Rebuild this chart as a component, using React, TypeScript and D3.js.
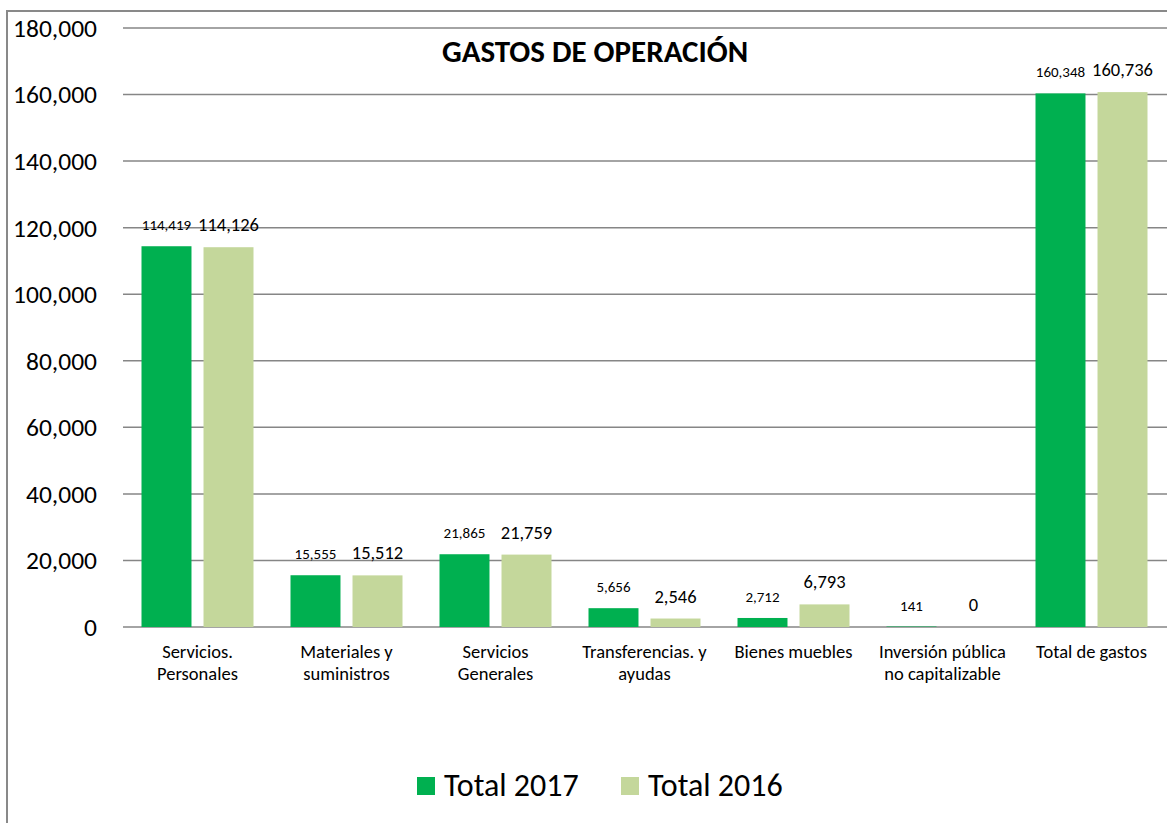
import { useEffect, useRef } from 'react';
import * as d3 from 'd3';

const CATEGORIES = [
  ['Servicios.', 'Personales'],
  ['Materiales y', 'suministros'],
  ['Servicios', 'Generales'],
  ['Transferencias. y', 'ayudas'],
  ['Bienes muebles'],
  ['Inversión pública', 'no capitalizable'],
  ['Total de gastos'],
];
const TOTAL_2017 = [114419, 15555, 21865, 5656, 2712, 141, 160348];
const TOTAL_2016 = [114126, 15512, 21759, 2546, 6793, 0, 160736];
const Y_TICKS = [0, 20000, 40000, 60000, 80000, 100000, 120000, 140000, 160000, 180000];

const C2017 = '#00B050';
const C2016 = '#C4D79B';
const FONT = 'Carlito, Lato, "Open Sans", sans-serif';

const App = () => {
  const svgRef = useRef<SVGSVGElement>(null);

  useEffect(() => {
    const width = 1167;
    const height = 823;
    const left = 123;
    const right = 1166;
    const top = 28;
    const bottom = 627;

    const svg = d3.select(svgRef.current);
    svg.selectAll('*').remove();
    svg.attr('width', width).attr('height', height).style('font-family', FONT);

    svg.append('rect').attr('width', width).attr('height', height).attr('fill', '#fff');
    // chart border (continues past the right/bottom edge)
    svg.append('rect')
      .attr('x', 7).attr('y', 11).attr('width', width + 20).attr('height', height + 20)
      .attr('fill', 'none').attr('stroke', '#898989').attr('stroke-width', 2);

    const y = d3.scaleLinear().domain([0, 180000]).range([bottom, top]);
    const x = d3.scaleBand<number>()
      .domain(CATEGORIES.map((_, i) => i))
      .range([left, right]);
    const inner = d3.scaleBand<string>()
      .domain(['2017', '2016'])
      .range([18.5, x.bandwidth() - 18.5])
      .paddingInner(0.194);

    // gridlines + tick labels
    svg.append('g').selectAll('line').data(Y_TICKS).join('line')
      .attr('x1', left).attr('x2', width)
      .attr('y1', d => y(d)).attr('y2', d => y(d))
      .attr('stroke', '#868686').attr('stroke-width', 1.5);
    svg.append('g').selectAll('text').data(Y_TICKS).join('text')
      .attr('x', 97).attr('y', d => y(d)).attr('dy', '0.35em')
      .attr('text-anchor', 'end').attr('font-size', 25.5).attr('fill', '#000')
      .text(d => d3.format(',')(d));

    const series = [
      { key: '2017', vals: TOTAL_2017, color: C2017, fs: 15 },
      { key: '2016', vals: TOTAL_2016, color: C2016, fs: 18.5 },
    ];

    series.forEach(s => {
      const g = svg.append('g');
      g.selectAll('rect').data(s.vals).join('rect')
        .attr('x', (_, i) => (x(i) as number) + (inner(s.key) as number))
        .attr('y', d => y(d))
        .attr('width', inner.bandwidth())
        .attr('height', d => bottom - y(d))
        .attr('fill', s.color);
      g.selectAll('text').data(s.vals).join('text')
        .attr('x', (_, i) => (x(i) as number) + (inner(s.key) as number) + inner.bandwidth() / 2)
        .attr('y', d => y(d) - 16)
        .attr('text-anchor', 'middle').attr('font-size', s.fs).attr('fill', '#000')
        .text(d => d3.format(',')(d));
    });

    // category labels
    const cat = svg.append('g').selectAll('text').data(CATEGORIES).join('text')
      .attr('text-anchor', 'middle').attr('font-size', 18.5).attr('fill', '#000');
    cat.each(function (lines, i) {
      const t = d3.select(this);
      lines.forEach((line, j) => {
        t.append('tspan')
          .attr('x', (x(i) as number) + x.bandwidth() / 2)
          .attr('y', 658 + j * 22)
          .text(line);
      });
    });

    // title
    svg.append('text')
      .attr('x', 595).attr('y', 62).attr('text-anchor', 'middle')
      .attr('font-size', 31).attr('font-weight', 'bold').attr('fill', '#000')
      .text('GASTOS DE OPERACIÓN');

    // legend
    const legend = [
      { label: 'Total 2017', color: C2017, x: 417 },
      { label: 'Total 2016', color: C2016, x: 621 },
    ];
    const lg = svg.append('g').selectAll('g').data(legend).join('g')
      .attr('transform', d => `translate(${d.x},0)`);
    lg.append('rect').attr('x', 0).attr('y', 777).attr('width', 18).attr('height', 18)
      .attr('fill', d => d.color);
    lg.append('text').attr('x', 27).attr('y', 796).attr('font-size', 32).attr('fill', '#000')
      .text(d => d.label);
  }, []);

  return (
    <div style={{ position: 'absolute', top: 0, left: 0 }}>
      <svg ref={svgRef} />
    </div>
  );
};

export default App;
